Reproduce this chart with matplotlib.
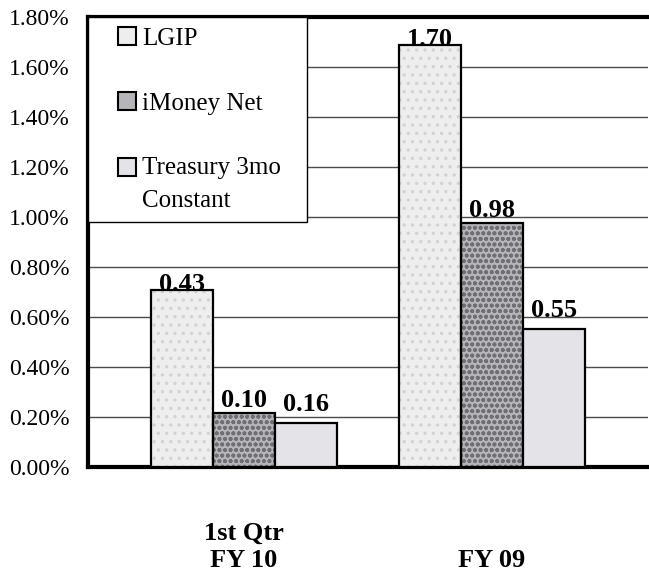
import matplotlib
matplotlib.use("Agg")
import matplotlib.pyplot as plt
import numpy as np
from matplotlib.patches import Patch, Rectangle
from matplotlib.legend_handler import HandlerPatch
from matplotlib.ticker import FuncFormatter, MultipleLocator

categories = ["1st Qtr\nFY 10", "FY 09"]
series_names = ["LGIP", "iMoney Net", "Treasury 3mo\nConstant"]
lgip = [0.71, 1.69]
imoney = [0.215, 0.975]
treasury = [0.175, 0.552]
lgip_labels = ["0.43", "1.70"]
imoney_labels = ["0.10", "0.98"]
treasury_labels = ["0.16", "0.55"]

colors = ["#eeeeee", "#b6b6ba", "#e4e4e8"]
hatches = ["..", "ooo", None]
hatch_colors = ["#d2d2d2", "#6e6e74", None]
label_offsets = [-1.0, 4.5, 8.5]   # points above bar top (style)

plt.rcParams['font.family'] = ['Liberation Serif', 'DejaVu Serif']
plt.rcParams['hatch.linewidth'] = 1.2

fig = plt.figure(figsize=(6.49, 5.73), dpi=100)
ax = fig.add_axes([88/649, 1-467/573, 560/649, 450/573])

x = np.arange(len(categories))
w = 0.25
series = [lgip, imoney, treasury]
labels = [lgip_labels, imoney_labels, treasury_labels]
for i, (vals, labs) in enumerate(zip(series, labels)):
    xs = x + (i - 1) * w
    if hatches[i]:
        ax.bar(xs, vals, width=w, color=colors[i], edgecolor=hatch_colors[i],
               hatch=hatches[i], linewidth=0, zorder=3)
        ax.bar(xs, vals, width=w, fill=False, edgecolor='black', linewidth=1.6, zorder=3.5)
    else:
        ax.bar(xs, vals, width=w, color=colors[i], edgecolor='black', linewidth=1.6, zorder=3.5)
    for xi, v, lab in zip(xs, vals, labs):
        ax.annotate(lab, (xi, v), xytext=(0, label_offsets[i]), textcoords='offset points',
                    ha='center', va='baseline', fontsize=19, fontweight='bold', zorder=4)

ax.set_xlim(-0.629, 1.629)
ax.set_ylim(0, 1.8)
ax.yaxis.set_major_locator(MultipleLocator(0.2))
ax.yaxis.set_major_formatter(FuncFormatter(lambda v, p: f"{v:.2f}%"))
ax.grid(axis='y', color='#4a4a4a', linewidth=1.0, zorder=0)
ax.set_axisbelow(True)

ax.set_xticks(x)
ax.set_xticklabels(categories, fontsize=19, fontweight='bold', linespacing=1.2)
for t in ax.get_xticklabels():
    t.set_verticalalignment('bottom')
ax.tick_params(axis='x', length=0, pad=75.3)
ax.tick_params(axis='y', length=0, pad=13.5, labelsize=17)

for s in ['left', 'bottom', 'top']:
    ax.spines[s].set_linewidth(3)
    ax.spines[s].set_color('black')
ax.spines['right'].set_visible(False)

handles = [Patch(facecolor=c, edgecolor='black', linewidth=1.5) for c in colors]
shifts = {id(handles[0]): 0.0, id(handles[1]): 0.0, id(handles[2]): 12.0}


def square(legend, orig_handle, xdescent, ydescent, width, height, fontsize):
    s = 13.0
    dy = shifts.get(id(orig_handle), 0.0)
    return Rectangle((-xdescent + width - s, -ydescent + (height - s) / 2 + dy), s, s)


hmap = {h: HandlerPatch(patch_func=square) for h in handles}
leg = ax.legend(handles, series_names, loc='upper left', bbox_to_anchor=(0, 1, 219/560, 0),
                mode='expand', borderaxespad=0, frameon=True, fancybox=False,
                edgecolor='black', framealpha=1, borderpad=0.42,
                labelspacing=1.68, handlelength=1.5, handleheight=0.72,
                handletextpad=0.25, handler_map=hmap,
                prop={'family': 'Liberation Serif', 'size': 18})
for t in leg.get_texts():
    t.set_linespacing(1.65)
leg.get_frame().set_linewidth(1.0)
leg.set_zorder(5)

fig.savefig("out.png", dpi=100)
